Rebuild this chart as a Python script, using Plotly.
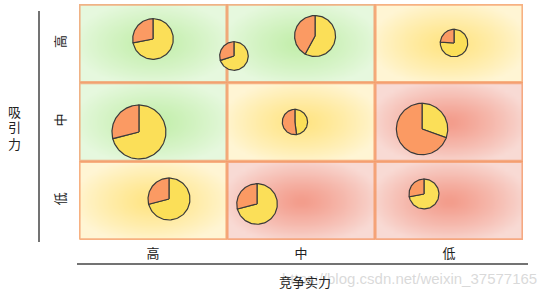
import numpy as np
import plotly.graph_objects as go

# ---------------- data ----------------
levels = ["高", "中", "低"]                 # tick labels for both axes
x_title = "竞争实力"
y_title = "吸引力"
# zone colour of each cell; rows = attraction 高/中/低 (top->bottom), cols = strength 高/中/低
cell_zone = [
    ["green", "green", "yellow"],
    ["green", "yellow", "red"],
    ["yellow", "red", "red"],
]
# business units (bubble pies): position on strength (x) / attraction (y) scales (0..3)
pie_strength = [0.50, 1.047, 1.595, 2.534, 0.405, 1.459, 2.318, 0.608, 1.203, 2.331]
pie_attraction = [2.555, 2.339, 2.593, 2.504, 1.373, 1.500, 1.411, 0.521, 0.458, 0.585]
pie_market = [103, 51, 105, 47, 182, 40, 165, 110, 103, 56]          # market size
pie_share = [0.28, 0.30, 0.42, 0.24, 0.29, 0.52, 0.695, 0.29, 0.29, 0.28]  # own share (orange)
watermark = "https://blog.csdn.net/weixin_37577165"

# ---------------- styles ----------------
W, H = 554, 297
ML, MR, MT, MB = 79, 31, 4, 57
PW, PH = W - ML - MR, H - MT - MB
XR, YR = [0, 3], [0, 3]
sx = PW / (XR[1] - XR[0])
sy = PH / (YR[1] - YR[0])

zone_colors = {
    "green": ("rgb(194,238,170)", "rgb(230,248,222)"),
    "yellow": ("rgb(255,228,130)", "rgb(255,245,212)"),
    "red": ("rgb(243,155,138)", "rgb(248,218,212)"),
}
ORANGE = "#fb9a63"
YELLOW = "#fbdf58"
EDGE = "#3a3a3a"
BORDER = "rgba(244,148,96,0.7)"
FONT = "Noto Sans CJK SC"

fig = go.Figure()

# cell backgrounds (radial gradients as smoothed heatmaps)
nx, ny = 40, 22
for r in range(3):
    for c in range(3):
        x0, x1 = c, c + 1
        y0, y1 = 2 - r, 3 - r
        xs = x0 + (np.arange(nx) + 0.5) / nx * (x1 - x0)
        ys = y0 + (np.arange(ny) + 0.5) / ny * (y1 - y0)
        cx, cy = (x0 + x1) / 2, (y0 + y1) / 2
        X, Y = np.meshgrid(xs, ys)
        d = np.sqrt(((X - cx) / 0.55) ** 2 + ((Y - cy) / 0.55) ** 2)
        z = np.clip(d, 0, 1) ** 1.2
        cc, ce = zone_colors[cell_zone[r][c]]
        fig.add_trace(go.Heatmap(
            x=xs, y=ys, z=z, zmin=0, zmax=1, zsmooth="best",
            colorscale=[[0, cc], [1, ce]], showscale=False, hoverinfo="skip"))

# cell borders
for r in range(3):
    for c in range(3):
        e = 0.004
        x0, x1 = c + e, c + 1 - e
        y0, y1 = 2 - r + e * 2, 3 - r - e * 2
        fig.add_trace(go.Scatter(
            x=[x0, x1, x1, x0, x0], y=[y0, y0, y1, y1, y0], mode="lines",
            line=dict(color=BORDER, width=2), hoverinfo="skip", showlegend=False))

# pies
for px_, py_, m, f in zip(pie_strength, pie_attraction, pie_market, pie_share):
    rad = 2 * np.sqrt(m)  # pixels
    def arc(a0, a1):
        t = np.linspace(a0, a1, 80)
        xs = [px_] + list(px_ + rad * np.sin(t) / sx) + [px_]
        ys = [py_] + list(py_ + rad * np.cos(t) / sy) + [py_]
        return xs, ys
    xo, yo = arc(-2 * np.pi * f, 0)
    xy, yy = arc(0, 2 * np.pi * (1 - f))
    fig.add_trace(go.Scatter(x=xy, y=yy, fill="toself", fillcolor=YELLOW, mode="lines",
                             line=dict(color=EDGE, width=1.2), hoverinfo="skip", showlegend=False))
    fig.add_trace(go.Scatter(x=xo, y=yo, fill="toself", fillcolor=ORANGE, mode="lines",
                             line=dict(color=EDGE, width=1.2), hoverinfo="skip", showlegend=False))


def pxx(v):
    return (v - ML) / PW


def pxy(v):
    return (H - MB - v) / PH


shapes = [
    dict(type="line", xref="paper", yref="paper", x0=pxx(39), x1=pxx(39), y0=pxy(11), y1=pxy(242),
         line=dict(color="#444444", width=1.5)),
    dict(type="line", xref="paper", yref="paper", x0=pxx(77), x1=pxx(528), y0=pxy(264), y1=pxy(264),
         line=dict(color="#444444", width=1.5)),
]

annotations = []
for i, ch in enumerate(y_title):
    annotations.append(dict(text=ch, xref="paper", yref="paper", x=pxx(14), y=pxy(111 + 16 * i),
                            xanchor="center", yanchor="middle", showarrow=False,
                            font=dict(family=FONT, size=13, color="#222222")))
annotations += [
    dict(text=watermark, xref="paper", yref="paper", x=pxx(409), y=pxy(278),
         xanchor="center", yanchor="middle",
         showarrow=False, font=dict(family="Liberation Sans", size=15, color="rgba(205,205,205,0.75)")),
    dict(text=x_title, xref="paper", yref="paper", x=pxx(305), y=pxy(281),
         xanchor="center", yanchor="middle",
         showarrow=False, font=dict(family=FONT, size=13, color="#222222")),
]

fig.update_layout(
    width=W, height=H, margin=dict(l=ML, r=MR, t=MT, b=MB),
    paper_bgcolor="white", plot_bgcolor="white", showlegend=False, hovermode=False,
    font=dict(family=FONT, size=13, color="#222222"),
    shapes=shapes, annotations=annotations,
    xaxis=dict(range=XR, tickvals=[0.5, 1.5, 2.5], ticktext=levels, showgrid=False,
               zeroline=False, showline=False, ticks="", ticklabelstandoff=4, fixedrange=True),
    yaxis=dict(range=YR, tickvals=[2.5, 1.5, 0.5], ticktext=levels, tickangle=-90, showgrid=False,
               zeroline=False, showline=False, ticks="", ticklabelstandoff=10, fixedrange=True),
)

fig.write_html("out.html")
